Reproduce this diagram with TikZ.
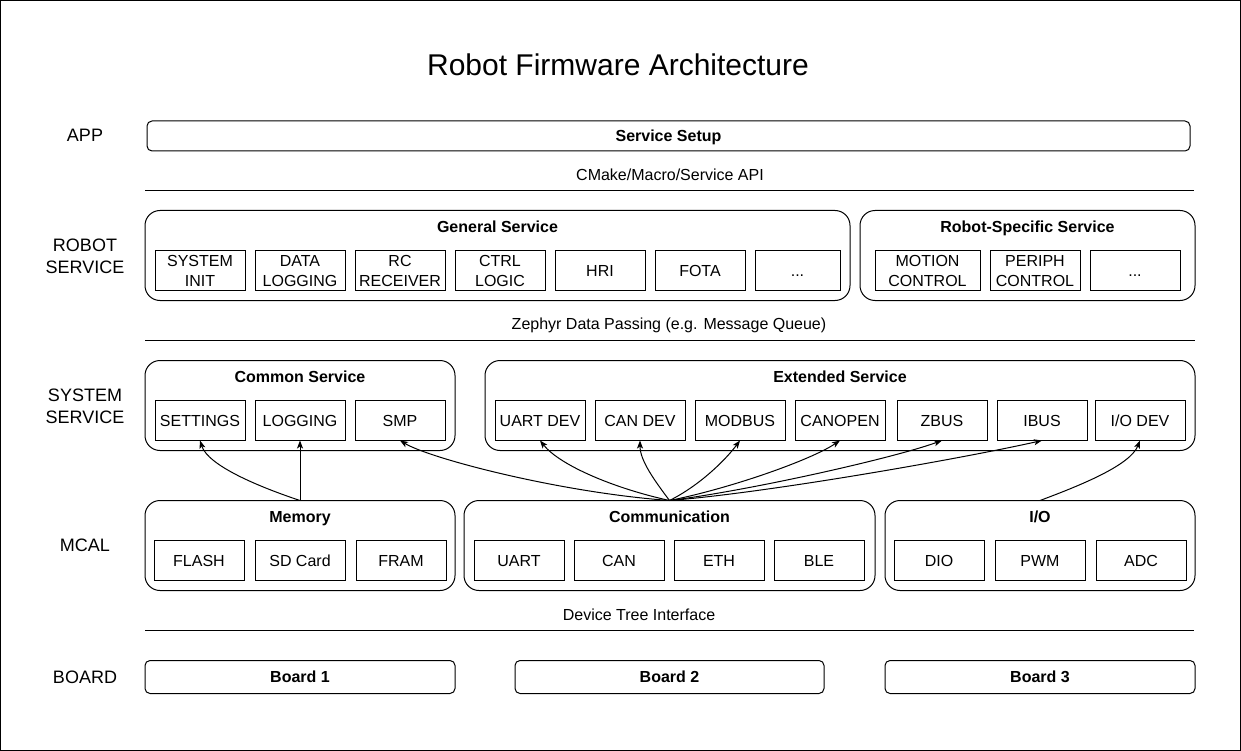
\documentclass[tikz,border=0pt]{standalone}
\usepackage{fontspec}
\setmainfont{Liberation Sans}
\usetikzlibrary{positioning,arrows.meta}

\def\dx{10pt}
\def\boxfont{\fontsize{16}{20}\selectfont}
\tikzset{
  module/.style={draw,minimum width=90pt,minimum height=40pt,inner sep=0pt,outer sep=0pt,align=center,font=\boxfont,text height=11.5pt,text depth=0pt},
  twoline/.style={text height=31.5pt},
  group/.style={draw,rounded corners=15pt,minimum height=90pt,outer sep=0pt},
  grouptitle/.style={font=\boxfont\bfseries,text height=11.5pt,text depth=0pt},
  layer/.style={font=\fontsize{18}{22}\selectfont,align=center},
  bar/.style={draw,rounded corners=5pt,outer sep=0pt,font=\boxfont\bfseries,text height=11.5pt,text depth=0pt},
  iface/.style={font=\boxfont},
  link/.style={-{Stealth[length=8pt,width=6pt,inset=2pt]}}
}

\begin{document}
\begin{tikzpicture}[x=1pt,y=-1pt,line width=1pt]
  \useasboundingbox (0,0) rectangle (1241,751);
  \draw (0.5,0.5) rectangle (1240.5,750.5);
  \node[font=\fontsize{30}{36}\selectfont] (heading) at (618,65) {Robot Firmware Architecture};

  % layer names
  \node[layer] (lapp) at (85,135) {APP};
  \node[layer] (lrobot) at (85,256) {ROBOT\\SERVICE};
  \node[layer] (lsystem) at (85,406) {SYSTEM\\SERVICE};
  \node[layer] (lmcal) at (85,545) {MCAL};
  \node[layer] (lboard) at (85,677) {BOARD};

  % app
  \node[bar,minimum width=1043pt,minimum height=30pt] (setup) at (668.5,136) {Service Setup};
  \node[iface] (api) at (670,175) {CMake/Macro/Service API};
  \draw (145,190.5) -- (1194,190.5);

  % robot service
  \node[group,minimum width=705pt] (general) at (497.5,255.5) {};
  \node[grouptitle] (generalt) at (497.5,226.5) {General Service};
  \node[module,twoline] (sysinit) at (200,270.5) {SYSTEM\\INIT};
  \node[module,twoline,right=\dx of sysinit] (datalog) {DATA\\LOGGING};
  \node[module,twoline,right=\dx of datalog] (rcrecv) {RC\\RECEIVER};
  \node[module,twoline,right=\dx of rcrecv] (ctrl) {CTRL\\LOGIC};
  \node[module,right=\dx of ctrl] (hri) {HRI};
  \node[module,right=\dx of hri] (fota) {FOTA};
  \node[module,right=\dx of fota,minimum width=85pt] (gmore) {...};

  \node[group,minimum width=335pt] (specific) at (1027.5,255.5) {};
  \node[grouptitle] (specifict) at (1027.5,226.5) {Robot-Specific Service};
  \node[module,twoline,minimum width=105pt] (motion) at (927.5,270.5) {MOTION\\CONTROL};
  \node[module,twoline,right=\dx of motion] (periph) {PERIPH\\CONTROL};
  \node[module,right=\dx of periph] (smore) {...};

  \node[iface] (zephyr) at (669,325) {Zephyr Data Passing (e.g. Message Queue)};
  \draw (145,340.5) -- (1195,340.5);

  % system service
  \node[group,minimum width=310pt] (common) at (300,405.5) {};
  \node[grouptitle] (commont) at (300,376.5) {Common Service};
  \node[module] (settings) at (200,420.5) {SETTINGS};
  \node[module,right=\dx of settings] (logging) {LOGGING};
  \node[module,right=\dx of logging] (smp) {SMP};

  \node[group,minimum width=710pt] (extended) at (840,405.5) {};
  \node[grouptitle] (extendedt) at (840,376.5) {Extended Service};
  \node[module] (uartdev) at (540,420.5) {UART DEV};
  \node[module,right=\dx of uartdev] (candev) {CAN DEV};
  \node[module,right=\dx of candev] (modbus) {MODBUS};
  \node[module,right=\dx of modbus] (canopen) {CANOPEN};
  \node[module,right=12pt of canopen] (zbus) {ZBUS};
  \node[module,right=\dx of zbus] (ibus) {IBUS};
  \node[module,right=8pt of ibus] (iodev) {I/O DEV};

  % mcal
  \node[group,minimum width=310pt] (memory) at (300,545.5) {};
  \node[grouptitle] (memoryt) at (300,516.5) {Memory};
  \node[module] (flash) at (199,560.5) {FLASH};
  \node[module,right=11pt of flash] (sdcard) {SD Card};
  \node[module,right=11pt of sdcard] (fram) {FRAM};

  \node[group,minimum width=411pt] (comm) at (669.5,545.5) {};
  \node[grouptitle] (commt) at (669.5,516.5) {Communication};
  \node[module] (uart) at (519,560.5) {UART};
  \node[module,right=\dx of uart] (can) {CAN};
  \node[module,right=\dx of can] (eth) {ETH};
  \node[module,right=\dx of eth] (ble) {BLE};

  \node[group,minimum width=310pt] (io) at (1040,545.5) {};
  \node[grouptitle] (iot) at (1040,516.5) {I/O};
  \node[module] (dio) at (939,560.5) {DIO};
  \node[module,right=11pt of dio] (pwm) {PWM};
  \node[module,right=11pt of pwm] (adc) {ADC};

  \node[iface] (dts) at (639,615) {Device Tree Interface};
  \draw (145,630.5) -- (1194,630.5);

  % board
  \node[bar,minimum width=310pt,minimum height=33pt] (board1) at (300,677) {Board 1};
  \node[bar,minimum width=309pt,minimum height=33pt] (board2) at (669.5,677) {Board 2};
  \node[bar,minimum width=310pt,minimum height=33pt] (board3) at (1040,677) {Board 3};

  % dependencies
  \draw[link] (memory.north) .. controls +(-42,-14) and +(8,25) .. (settings.south);
  \draw[link] (memory.north) -- (logging.south);
  \draw[link] (comm.north) .. controls +(-110,-8) and +(30,18) .. (smp.south);
  \draw[link] (comm.north) .. controls +(-55,-12) and +(20,25) .. (uartdev.south);
  \draw[link] (comm.north) .. controls +(-15,-20) and +(0,20) .. (candev.south);
  \draw[link] (comm.north) .. controls +(30,-15) and +(-15,20) .. (modbus.south);
  \draw[link] (comm.north) .. controls +(60,-12) and +(-30,20) .. (canopen.south);
  \draw[link] (comm.north) .. controls +(80,-10) and +(-50,18) .. (zbus.south);
  \draw[link] (comm.north) .. controls +(100,-8) and +(-80,18) .. (ibus.south);
  \draw[link] (io.north) .. controls +(40,-15) and +(-10,25) .. (iodev.south);
\end{tikzpicture}
\end{document}
